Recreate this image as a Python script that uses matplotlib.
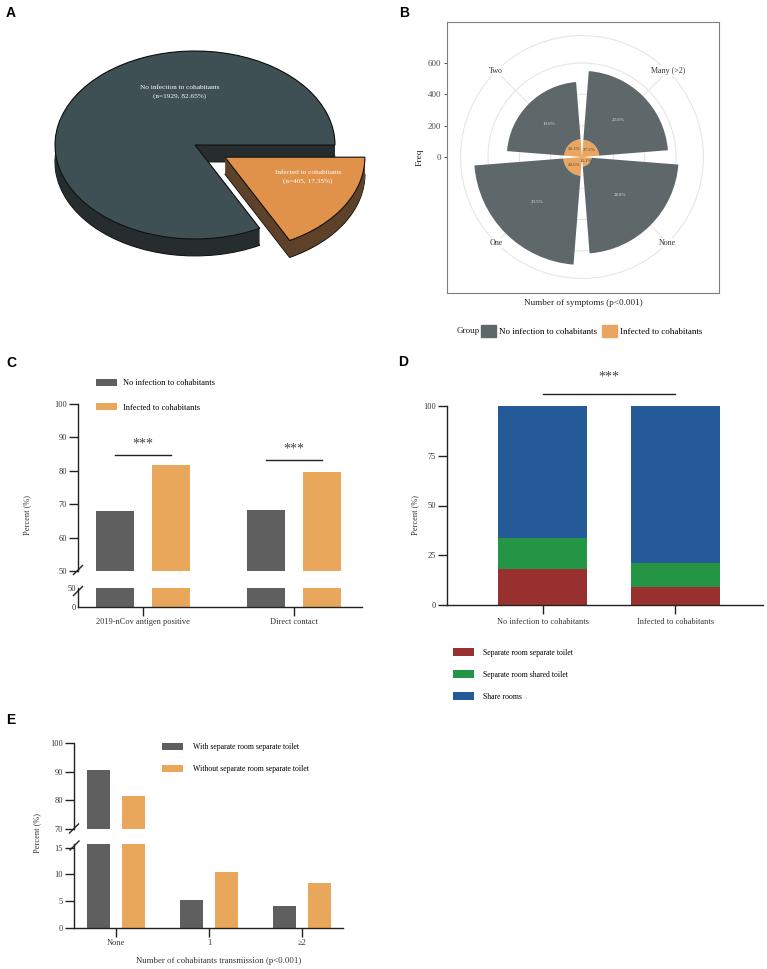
import numpy as np
import matplotlib
matplotlib.use("Agg")
import matplotlib.pyplot as plt
from matplotlib.patches import Wedge, Circle, Patch
from matplotlib.lines import Line2D

plt.rcParams['font.family'] = ['Liberation Serif', 'DejaVu Serif']

W, H = 767, 969

# A: overall transmission
pie_labels = ["No infection to cohabitants", "Infected to cohabitants"]
pie_counts = [1929, 405]
pie_pcts = [82.65, 17.35]

# B: number of symptoms
sym_cats = ["Many (>2)", "None", "One", "Two"]
sym_noinf = [440, 556, 569, 366]
sym_inf = [110, 61, 120, 114]
sym_noinf_pct = ["22.8%", "28.8%", "29.5%", "19.0%"]
sym_inf_pct = ["27.2%", "15.1%", "29.6%", "28.1%"]

# C: antigen / contact
c_cats = ["2019-nCov antigen positive", "Direct contact"]
c_noinf = [67.9, 68.4]
c_inf = [81.8, 79.6]
c_sig = [84.8, 83.3]

# D: room arrangement
d_cats = ["No infection to cohabitants", "Infected to cohabitants"]
d_sep_toilet = [18.2, 8.9]
d_shared_toilet = [15.6, 12.4]
d_share_rooms = [66.2, 78.7]
d_labels = ["Separate room separate toilet", "Separate room shared toilet", "Share rooms"]

# E: number of cohabitants transmission
e_cats = ["None", "1", "\u22652"]
e_with = [90.5, 5.3, 4.1]
e_without = [81.4, 10.4, 8.4]
e_labels = ["With separate room separate toilet", "Without separate room separate toilet"]

GRAY = "#5f5f5f"
ORANGE = "#e9a75b"
AXC = "#222222"

fig = plt.figure(figsize=(W / 100, H / 100), dpi=100)


def px_axes(x0, y0, x1, y1):
    return fig.add_axes([x0 / W, 1 - y1 / H, (x1 - x0) / W, (y1 - y0) / H])


def fx(x):
    return x / W


def fy(y):
    return 1 - y / H


def brk(x, y):
    fig.add_artist(Line2D([fx(x - 4.5), fx(x + 4.5)], [fy(y + 4.5), fy(y - 4.5)],
                          color=AXC, lw=1.0, transform=fig.transFigure))


def prism(ax, size):
    for s in ["top", "right"]:
        ax.spines[s].set_visible(False)
    for s in ["left", "bottom"]:
        ax.spines[s].set_linewidth(1.0)
        ax.spines[s].set_color(AXC)
    ax.tick_params(length=6.5, width=1.0, color=AXC, labelsize=size, pad=1.5, labelcolor="#333333")


def letter(x, y, s):
    fig.text(fx(x), fy(y), s, family="Liberation Sans", weight="bold", fontsize=10,
             ha="center", va="center")


def stars(ax, x, y):
    ax.text(x, y, "***", ha="center", va="center", fontsize=10, color="#444444",
            clip_on=False)


# ---------------- A ----------------
ax = px_axes(0, 20, 390, 290)
explode = [0, 0.25]
depths = np.linspace(0.18, 0, 30)
for i, d in enumerate(depths):
    wp = dict(linewidth=0.8 if i == 0 else 0, edgecolor="#111111")
    ax.pie(pie_pcts, explode=explode, startangle=0, center=(0, -d),
           colors=["#262d2f", "#5e4129"], wedgeprops=wp)
ax.pie(pie_pcts, explode=explode, startangle=0, colors=["#3e5053", "#e0924b"],
       wedgeprops=dict(linewidth=0.8, edgecolor="#111111"))
ax.set_aspect("auto")
ax.set_xlim(-1.393, 1.393)
ax.set_ylim(-1.543, 1.33)
ax.text(-0.107, 0.56, f"{pie_labels[0]}\n(n={pie_counts[0]}, {pie_pcts[0]}%)",
        color="white", fontsize=5.2, ha="center", va="center", linespacing=1.7)
ax.text(0.807, -0.34, f"{pie_labels[1]}\n(n={pie_counts[1]}, {pie_pcts[1]}%)",
        color="white", fontsize=5.2, ha="center", va="center", linespacing=1.7)
letter(11, 13, "A")

# ---------------- B ----------------
ax = px_axes(447, 22, 719, 293)
k = 600 / 94
ax.set_xlim(-135 * k, 137 * k)
ax.set_ylim(-136 * k, 135 * k)
rmax = 775
for r in [200, 400, 600, rmax]:
    ax.add_patch(Circle((0, 0), r, fill=False, ec="#e6e6e6", lw=0.8, zorder=0))
BDARK = "#5e6769"
BORANGE = "#eaa660"
for i, cat in enumerate(sym_cats):
    c = 45 + 90 * i
    a = np.deg2rad(90 - c)
    ax.plot([0, rmax * np.cos(a)], [0, rmax * np.sin(a)], color="#e6e6e6", lw=0.8, zorder=0)
    t1, t2 = 90 - c - 40.5, 90 - c + 40.5
    ax.add_patch(Wedge((0, 0), sym_inf[i], t1, t2, color=BORANGE, lw=0, zorder=2))
    ax.add_patch(Wedge((0, 0), sym_inf[i] + sym_noinf[i], t1, t2, width=sym_noinf[i],
                       color=BDARK, lw=0, zorder=2))
    rm = sym_inf[i] + sym_noinf[i] / 2
    ax.text(rm * np.cos(a), rm * np.sin(a), sym_noinf_pct[i], color="#dddddd",
            fontsize=3.5, ha="center", va="center", zorder=3)
    ri = sym_inf[i] * 0.6
    ax.text(ri * np.cos(a), ri * np.sin(a), sym_inf_pct[i], color="#444444",
            fontsize=3.5, ha="center", va="center", zorder=3)
    ax.text(rmax * np.cos(a), rmax * np.sin(a), cat, color="#333333", fontsize=5.8,
            ha="center", va="center", zorder=3,
            bbox=dict(facecolor="white", edgecolor="none", pad=0.6))
ax.set_xticks([])
ax.set_yticks([0, 200, 400, 600])
for s in ax.spines.values():
    s.set_color("#7f7f7f")
    s.set_linewidth(0.8)
ax.tick_params(axis="y", length=2.5, width=0.6, color="#333333", labelsize=6.5,
               labelcolor="#4d4d4d", pad=1.5)
ax.set_ylabel("Freq", fontsize=6.8, color="#222222", labelpad=3)
ax.set_xlabel("Number of symptoms (p<0.001)", fontsize=6.6, color="#222222", labelpad=4)
fig.text(fx(480), fy(331), "Group", fontsize=6.5, ha="right", va="center", color="#222222")
fig.legend([Patch(color=BDARK), Patch(color=BORANGE)], pie_labels, ncol=2,
           loc="center left", bbox_to_anchor=(fx(481), fy(331)), frameon=False,
           fontsize=6.5, handlelength=1.66, handleheight=1.66, handletextpad=0.33,
           columnspacing=0.55, borderpad=0, borderaxespad=0)
letter(404, 13, "B")

# ---------------- C ----------------
ax_up = px_axes(78, 404, 362, 571)
ax_lo = px_axes(78, 588, 362, 607)
x = np.arange(len(c_cats))
for a in (ax_up, ax_lo):
    a.bar(x - 0.187, c_noinf, 0.25, color=GRAY, label=pie_labels[0])
    a.bar(x + 0.187, c_inf, 0.25, color=ORANGE, label=pie_labels[1])
    a.set_xlim(-0.43, 1.45)
    prism(a, 6)
ax_up.set_ylim(50, 100)
ax_up.set_yticks([50, 60, 70, 80, 90, 100])
ax_up.spines["bottom"].set_visible(False)
ax_up.set_xticks([])
ax_lo.set_ylim(0, 50)
ax_lo.set_yticks([0, 50])
ax_lo.tick_params(axis="y", length=0)
ax_lo.set_xticks(x)
ax_lo.set_xticklabels(c_cats, fontsize=6)
for xi, yi in zip(x, c_sig):
    ax_up.plot([xi - 0.187, xi + 0.187], [yi, yi], color=AXC, lw=1.0)
    stars(ax_up, xi, yi + 3.2)
ax_up.legend(loc="upper left", bbox_to_anchor=(fx(96), fy(379)), bbox_transform=fig.transFigure,
             frameon=False, fontsize=6, handlelength=2.5, handleheight=0.96,
             handletextpad=0.7, labelspacing=1.87, borderpad=0, borderaxespad=0)
brk(78, 570)
brk(78, 591)
fig.text(fx(27), fy(515), "Percent (%)", rotation=90, fontsize=6, ha="center", va="center",
         color="#333333")
letter(11, 363, "C")

# ---------------- D ----------------
ax = px_axes(447, 406, 763, 605)
x = np.arange(len(d_cats))
mid = np.add(d_sep_toilet, d_shared_toilet)
ax.bar(x, d_sep_toilet, 0.665, color="#98302f", label=d_labels[0])
ax.bar(x, d_shared_toilet, 0.665, bottom=d_sep_toilet, color="#239544", label=d_labels[1])
ax.bar(x, d_share_rooms, 0.665, bottom=mid, color="#235a97", label=d_labels[2])
ax.set_xlim(-0.72, 1.66)
ax.set_ylim(0, 100)
ax.set_yticks([0, 25, 50, 75, 100])
ax.set_xticks(x)
ax.set_xticklabels(d_cats, fontsize=5.6)
prism(ax, 6)
ax.tick_params(axis="x", pad=3)
ax.plot([0, 1], [106, 106], color=AXC, lw=1.0, clip_on=False)
stars(ax, 0.5, 114.6)
ax.legend(loc="upper left", bbox_to_anchor=(fx(453), fy(648)), bbox_transform=fig.transFigure,
          frameon=False, fontsize=5.6, handlelength=2.68, handleheight=1.28,
          handletextpad=1.16, labelspacing=1.69, borderpad=0, borderaxespad=0)
fig.text(fx(415), fy(515), "Percent (%)", rotation=90, fontsize=6, ha="center", va="center",
         color="#333333")
letter(403, 362, "D")

# ---------------- E ----------------
ax_up = px_axes(74, 743, 343, 829)
ax_lo = px_axes(74, 844, 343, 928)
x = np.arange(len(e_cats))
for a in (ax_up, ax_lo):
    a.bar(x - 0.188, e_with, 0.25, color=GRAY, label=e_labels[0])
    a.bar(x + 0.188, e_without, 0.25, color=ORANGE, label=e_labels[1])
    a.set_xlim(-0.45, 2.44)
    prism(a, 6)
ax_up.set_ylim(70, 100)
ax_up.set_yticks([70, 80, 90, 100])
ax_up.spines["bottom"].set_visible(False)
ax_up.set_xticks([])
ax_lo.set_ylim(0, 15.7)
ax_lo.set_yticks([0, 5, 10, 15])
ax_lo.set_xticks(x)
ax_lo.set_xticklabels(e_cats, fontsize=6)
ax_up.legend(loc="upper left", bbox_to_anchor=(fx(162), fy(743)), bbox_transform=fig.transFigure,
             frameon=False, fontsize=5.6, handlelength=2.68, handleheight=0.98,
             handletextpad=1.28, labelspacing=1.83, borderpad=0, borderaxespad=0)
brk(74, 828.5)
brk(74.5, 845.5)
fig.text(fx(37), fy(833), "Percent (%)", rotation=90, fontsize=6, ha="center", va="center",
         color="#333333")
fig.text(fx(219), fy(961), "Number of cohabitants transmission (p<0.001)", fontsize=6.3,
         ha="center", va="center", color="#333333")
letter(11, 720, "E")

fig.savefig("out.png", dpi=100)
